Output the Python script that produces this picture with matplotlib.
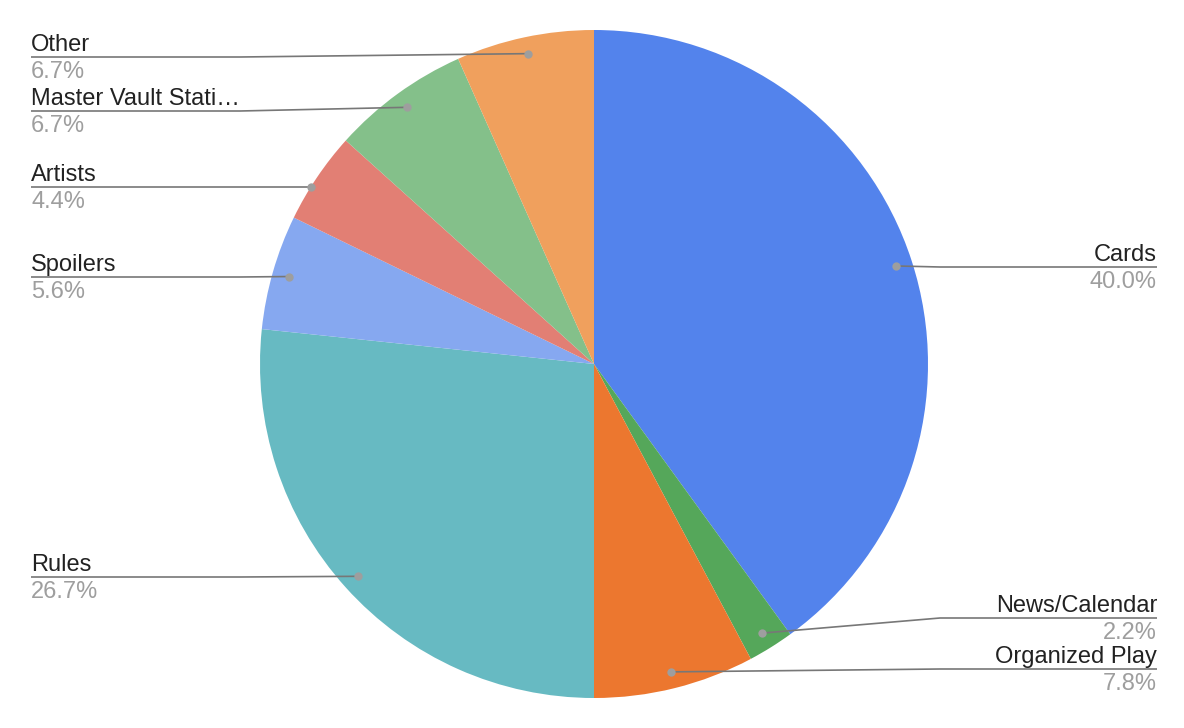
import numpy as np
import matplotlib.pyplot as plt

plt.rcParams['font.family'] = ['Liberation Sans', 'DejaVu Sans']

# data (counts, shown as percentages)
categories = ["Cards", "News/Calendar", "Organized Play", "Rules",
              "Spoilers", "Artists", "Master Vault Stati\u2026", "Other"]
counts = [36, 2, 7, 24, 5, 4, 6, 6]
colors = ["#5383EC", "#55A75A", "#EC772F", "#67BAC2",
          "#86A8F0", "#E27F74", "#84C08A", "#F0A05D"]

# label layout (pixel rows from top, side of the chart)
label_rows = [267, 618, 669, 577, 277, 187, 111, 57]
label_side = ["right", "right", "right", "left", "left", "left", "left", "left"]
# dot snapped to the rim at the label row instead of the slice middle
dot_on_rim = [False, False, False, False, False, True, False, False]

W, H = 1184, 728
fig = plt.figure(figsize=(W / 100, H / 100), dpi=100)
ax = fig.add_axes([0, 0, 1, 1])

cx, cy, R = 594, H - 364, 334
wedges, _ = ax.pie(counts, colors=colors, startangle=90, counterclock=False,
                   center=(cx, cy), radius=R, frame=True,
                   wedgeprops=dict(linewidth=0))
ax.set_xlim(0, W)
ax.set_ylim(0, H)
ax.set_aspect("equal")
ax.axis("off")

total = sum(counts)
for w, name, n, row, side, rim in zip(wedges, categories, counts, label_rows,
                                      label_side, dot_on_rim):
    ly = H - row
    if rim:
        dy = ly
        off = np.sqrt(R ** 2 - (ly - cy) ** 2)
        dx = cx - off if side == "left" else cx + off
    else:
        mid = np.deg2rad((w.theta1 + w.theta2) / 2)
        dx = cx + 0.95 * R * np.cos(mid)
        dy = cy + 0.95 * R * np.sin(mid)
    if side == "left":
        bend, edge, ha = 240, 31, "left"
    else:
        bend, edge, ha = 940, 1157, "right"
    ax.plot([dx, bend, edge], [dy, ly, ly], color="#777777", lw=1.2,
            solid_capstyle="butt", zorder=3)
    ax.plot(dx, dy, "o", color="#9e9e9e", ms=6, mec="none", zorder=4)
    ax.text(edge, ly + 6, name, ha=ha, va="baseline", fontsize=17,
            color="#222222")
    ax.text(edge, ly - 21, f"{100 * n / total:.1f}%", ha=ha, va="baseline",
            fontsize=17, color="#9e9e9e")

fig.savefig("out.png", dpi=100, facecolor="white")
